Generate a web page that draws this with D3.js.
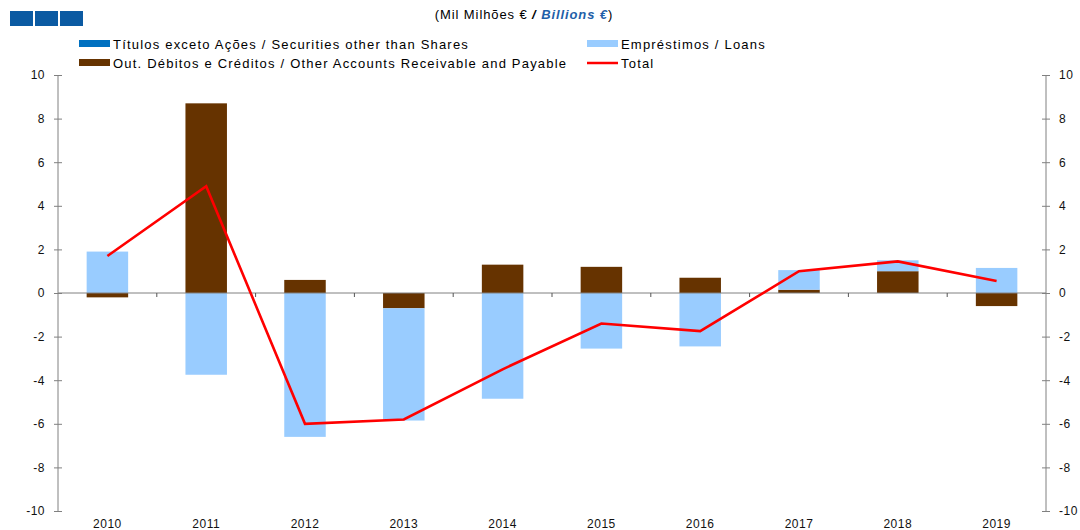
<!DOCTYPE html>
<html>
<head>
<meta charset="utf-8">
<script src="https://cdn.jsdelivr.net/npm/d3@7"></script>
<style>
  body { margin: 0; background: #fff; }
  text { font-family: "Liberation Sans", Arial, sans-serif; }
</style>
</head>
<body>
<div id="graph"></div>
<script>
var years = ["2010","2011","2012","2013","2014","2015","2016","2017","2018","2019"];
var securities = [0, 0, 0, 0, 0, 0, 0, 0, 0, 0];
var loans = [1.9, -3.75, -6.6, -5.15, -4.85, -2.55, -2.45, 0.9, 0.5, 1.15];
var other = [-0.2, 8.7, 0.6, -0.7, 1.3, 1.2, 0.7, 0.15, 1.0, -0.6];
var total = [1.7, 4.9, -6.0, -5.8, -3.5, -1.4, -1.75, 1.0, 1.45, 0.55];
var yTicks = [-10, -8, -6, -4, -2, 0, 2, 4, 6, 8, 10];

var seriesKeys = ["other", "loans", "securities"];
var color = d3.scaleOrdinal()
    .domain(["securities", "loans", "other"])
    .range(["#0070c0", "#99ccff", "#663300"]);

var rows = years.map(function(y, i) {
    return { year: y, securities: securities[i], loans: loans[i], other: other[i] };
});

var svg = d3.select("#graph").append("svg")
    .attr("width", 1080).attr("height", 530);

var plotLeft = 58, plotRight = 1046, plotTop = 75, plotBottom = 511;

// bars: inner padding 0.58, outer half of that so bars sit in the middle of each category
var x = d3.scaleBand().domain(years).range([plotLeft, plotRight]).paddingInner(0.58).paddingOuter(0.29);
var xb = d3.scaleBand().domain(years).range([plotLeft, plotRight]);
var y = d3.scaleLinear().domain([-10, 10]).range([plotBottom, plotTop]);

// header blocks
[10, 35, 60].forEach(function(px) {
    svg.append("rect").attr("x", px).attr("y", 11).attr("width", 23).attr("height", 15)
        .style("fill", "#0b5aa2");
});

var title = svg.append("text").attr("x", 524).attr("y", 19)
    .attr("text-anchor", "middle").style("font-size", "13px").style("letter-spacing", "0.9px")
    .style("fill", "#000");
title.append("tspan").text("(Mil Milhões € ");
title.append("tspan").text("/ ").style("font-weight", "bold").style("font-style", "italic");
title.append("tspan").text("Billions  €").style("font-style", "italic").style("font-weight", "bold").style("fill", "#1f5fa8");
title.append("tspan").text(")");

// legend
var legend = [
    { label: "Títulos exceto Ações / Securities other than Shares", key: "securities", x: 79, y: 44, type: "rect" },
    { label: "Empréstimos / Loans", key: "loans", x: 587, y: 44, type: "rect" },
    { label: "Out. Débitos e Créditos / Other Accounts Receivable and Payable", key: "other", x: 79, y: 63, type: "rect" },
    { label: "Total", key: "total", x: 587, y: 63, type: "line" }
];
legend.forEach(function(d) {
    if (d.type == "rect") {
        svg.append("rect").attr("x", d.x).attr("y", d.y - 4).attr("width", 31).attr("height", 7)
            .style("fill", color(d.key));
    } else {
        svg.append("line").attr("x1", d.x).attr("x2", d.x + 31).attr("y1", d.y).attr("y2", d.y)
            .style("stroke", "#ff0000").style("stroke-width", 2.5);
    }
    svg.append("text").attr("x", d.x + 34).attr("y", d.y + 5)
        .style("font-size", "13px").style("letter-spacing", "1.2px")
        .style("fill", "#000").text(d.label);
});

// axes
var fmt = function(d) { return String(d); };
var leftAxis = svg.append("g").attr("transform", "translate(" + plotLeft + ",0)")
    .call(d3.axisLeft(y).tickValues(yTicks).tickFormat(fmt).tickSize(4).tickPadding(9));
var rightAxis = svg.append("g").attr("transform", "translate(" + plotRight + ",0)")
    .call(d3.axisRight(y).tickValues(yTicks).tickFormat(fmt).tickSize(4).tickPadding(9));
[leftAxis, rightAxis].forEach(function(g) {
    g.select(".domain").attr("d", "M0," + plotTop + "V" + plotBottom).style("stroke", "#808080");
    g.selectAll(".tick line").attr("x1", -4).attr("x2", 4).style("stroke", "#808080");
    g.selectAll(".tick text").style("font-size", "12px").style("fill", "#111")
        .style("letter-spacing", "0.5px")
        .style("font-family", "Liberation Sans, Arial, sans-serif");
});

// stacked bars
var stack = d3.stack().keys(seriesKeys).offset(d3.stackOffsetDiverging);
var stacked = stack(rows);
svg.selectAll("g.series")
    .data(stacked)
    .enter()
    .append("g")
        .attr("class", "series")
        .style("fill", function(d) { return color(d.key); })
    .selectAll("rect")
    .data(function(d) { return d; })
    .enter()
    .append("rect")
        .attr("x", function(d) { return x(d.data.year); })
        .attr("width", x.bandwidth())
        .attr("y", function(d) { return y(Math.max(d[0], d[1])); })
        .attr("height", function(d) { return Math.abs(y(d[0]) - y(d[1])); });

// zero line with category ticks
svg.append("line").attr("x1", plotLeft).attr("x2", plotRight).attr("y1", y(0)).attr("y2", y(0))
    .style("stroke", "#808080").style("stroke-width", 1);
svg.selectAll("line.ctick")
    .data(years.slice(1))
    .enter()
    .append("line")
        .attr("class", "ctick")
        .attr("x1", function(d) { return xb(d); })
        .attr("x2", function(d) { return xb(d); })
        .attr("y1", y(0)).attr("y2", y(0) + 4)
        .style("stroke", "#555");

// category labels
svg.selectAll("text.year")
    .data(years)
    .enter()
    .append("text")
        .attr("class", "year")
        .attr("x", function(d) { return xb(d) + xb.bandwidth() / 2; })
        .attr("y", 528)
        .attr("text-anchor", "middle")
        .style("font-size", "12px").style("letter-spacing", "0.5px").style("fill", "#111")
        .text(function(d) { return d; });

// total line
var line = d3.line()
    .x(function(d, i) { return xb(years[i]) + xb.bandwidth() / 2; })
    .y(function(d) { return y(d); });
svg.append("path").datum(total)
    .attr("d", line)
    .style("fill", "none").style("stroke", "#ff0000").style("stroke-width", 2.6);
</script>
</body>
</html>
